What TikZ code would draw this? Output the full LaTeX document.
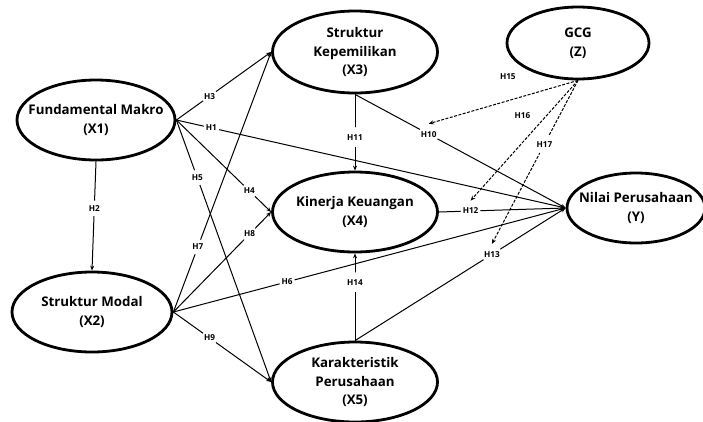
\documentclass[tikz,border=0pt]{standalone}
\usepackage{fontspec}
\setmainfont{Open Sans}
\usetikzlibrary{shapes.geometric,arrows.meta}

\tikzset{
  var/.style={ellipse, draw, line width=2.8pt, inner xsep=-25pt, inner ysep=-15pt,
    align=center, font=\bfseries\fontsize{13.3}{18.5}\selectfont},
  hyp/.style={circle, fill=white, inner sep=1.2pt, font=\bfseries\fontsize{8.2}{9}\selectfont},
  link/.style={-{Stealth[length=5pt,width=4pt]}, line width=1pt},
  moder/.style={link, dash pattern=on 3pt off 1.5pt}
}

\begin{document}
\begin{tikzpicture}[x=1pt,y=-1pt]
    \useasboundingbox (0,0) rectangle (703,421);
    % Variabel
    \node[var, minimum width=158pt, minimum height=80pt] (x1) at (96,120) {Fundamental Makro\\(X1)};
    \node[var, minimum width=160pt, minimum height=80pt] (x2) at (92,312) {Struktur Modal\\(X2)};
    \node[var, minimum width=165pt, minimum height=82pt] (x3) at (355,52) {Struktur\\Kepemilikan\\(X3)};
    \node[var, minimum width=165pt, minimum height=80pt] (x4) at (355,212) {Kinerja Keuangan\\(X4)};
    \node[var, minimum width=165pt, minimum height=80pt] (x5) at (355,382) {Karakteristik\\Perusahaan\\(X5)};
    \node[var, minimum width=142pt, minimum height=72pt] (z) at (578,43) {GCG\\(Z)};
    \node[var, minimum width=138pt, minimum height=70pt] (y) at (636,208) {Nilai Perusahaan\\(Y)};

    % Hipotesis langsung
    \draw[link] (x1.south) -- node[hyp, pos=0.43] (h2) {H2} (x2.north);
    \draw[link] (x1.east) -- node[hyp, pos=0.35] (h3) {H3} (x3.west);
    \draw[link] (x1.east) -- node[hyp, pos=0.09] (h1) {H1} (y.west);
    \draw[link] (x1.east) -- node[hyp, pos=0.77] (h4) {H4} (x4.west);
    \draw[link] (x1.east) -- node[hyp, pos=0.22] (h5) {H5} (x5.west);
    \draw[link] (x2.east) -- node[hyp, pos=0.25] (h7) {H7} (x3.west);
    \draw[link] (x2.east) -- node[hyp, pos=0.78] (h8) {H8} (x4.west);
    \draw[link] (x2.east) -- node[hyp, pos=0.29] (h6) {H6} (y.west);
    \draw[link] (x2.east) -- node[hyp, pos=0.37] (h9) {H9} (x5.west);
    \draw[link] (x3.south) -- node[hyp, pos=0.56] (h11) {H11} (x4.north);
    \draw[link] (x3.south) -- node[hyp, pos=0.35] (h10) {H10} (y.west);
    \draw[link] (x4.east) -- node[hyp, pos=0.25] (h12) {H12} (y.west);
    \draw[link] (x5.north) -- node[hyp, pos=0.65] (h13) {H13} (y.west);
    \draw[link] (x5.north) -- node[hyp, pos=0.67] (h14) {H14} (x4.south);

    % Moderasi GCG
    \draw[moder] (z.south) -- node[hyp, pos=0.47, above=14pt] (h15) {H15} (h10.north);
    \draw[moder] (z.south) -- node[hyp, pos=0.29, left=14pt] (h16) {H16} (h12.north);
    \draw[moder] (z.south) -- node[hyp, pos=0.39] (h17) {H17} (h13.north);
\end{tikzpicture}
\end{document}
